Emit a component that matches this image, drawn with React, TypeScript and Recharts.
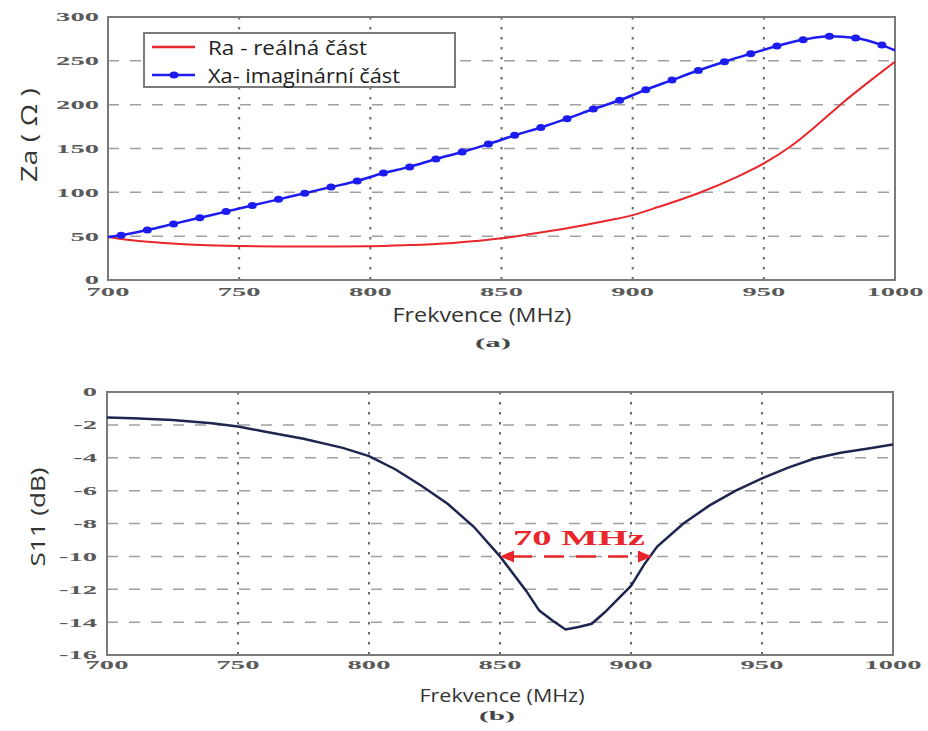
import React from 'react';
import {
  LineChart,
  Line,
  XAxis,
  YAxis,
  CartesianGrid,
  ReferenceArea,
  ReferenceLine,
  Legend,
} from 'recharts';

// Axis ticks
const freqTicks = [700, 750, 800, 850, 900, 950, 1000];
const zaTicks = [0, 50, 100, 150, 200, 250, 300];
const s11Ticks = [0, -2, -4, -6, -8, -10, -12, -14, -16];

// (a) Real part of the antenna impedance, Ra (ohm)
const raFreq = [700, 710, 720, 735, 750, 765, 780, 800, 815, 825, 840, 850, 860, 875, 890, 900, 910, 925, 940, 950, 960, 970, 980, 990, 1000];
const raOhm = [49, 45, 42.5, 40, 38.8, 38.3, 38.2, 38.5, 39.8, 41, 44.5, 47.5, 52, 59, 67.5, 74, 83.5, 99, 118, 133, 152, 176, 202, 226, 249];

// (a) Imaginary part of the antenna impedance, Xa (ohm); markers on the inner samples
const xaFreq = [700, 705, 715, 725, 735, 745, 755, 765, 775, 785, 795, 805, 815, 825, 835, 845, 855, 865, 875, 885, 895, 905, 915, 925, 935, 945, 955, 965, 975, 985, 995, 1000];
const xaOhm = [49, 51, 57, 64, 71, 78, 85, 92, 99, 106, 113, 122, 129, 138, 146, 155, 165, 174, 184, 195, 205, 217, 228, 239, 249, 258, 267, 274, 278, 276, 268, 262];

// (b) Reflection coefficient S11 (dB)
const s11Freq = [700, 710, 725, 740, 750, 760, 775, 790, 800, 810, 820, 830, 840, 850, 860, 865, 870, 875, 880, 885, 890, 895, 900, 905, 910, 920, 930, 940, 950, 960, 970, 980, 990, 1000];
const s11Db = [-1.55, -1.6, -1.7, -1.9, -2.1, -2.4, -2.85, -3.4, -3.9, -4.7, -5.7, -6.8, -8.2, -10.0, -12.1, -13.3, -13.9, -14.45, -14.3, -14.1, -13.4, -12.6, -11.8, -10.5, -9.4, -8.0, -6.9, -6.0, -5.25, -4.6, -4.05, -3.7, -3.45, -3.2];

// Bandwidth marker at the -10 dB level
const bandStart = 850;
const bandEnd = 908;
const bandLevel = -10;
const bandText = '70 MHz';

const raData = raFreq.map((f, i) => ({ f, ohm: raOhm[i] }));
const xaData = xaFreq.map((f, i) => ({ f, ohm: xaOhm[i] }));
const s11Data = s11Freq.map((f, i) => ({ f, db: s11Db[i] }));

const RED = '#e8262b';
const BLUE = '#1c1cf0';
const NAVY = '#1e2650';
const FRAME = '#7a7a7a';
const SANS = '"Open Sans", "Noto Sans", sans-serif';
const SERIF = '"Liberation Serif", "Times New Roman", serif';

const SerifTick = (props: any) => {
  const { x, y, payload, anchor, dx = 0, dy = 0 } = props;
  return (
    <g transform={`translate(${x + dx},${y + dy})`}>
      <text
        transform="scale(2.2,1)"
        textAnchor={anchor}
        dominantBaseline="central"
        fontFamily={SERIF}
        fontWeight="bold"
        fontSize={13}
        fill="#5a5a5a"
      >
        {payload.value}
      </text>
    </g>
  );
};

const XaDot = (props: any) => {
  const { cx, cy, index } = props;
  if (index === 0 || index === xaData.length - 1 || cx == null) {
    return <g key={`xa-dot-${index}`} />;
  }
  return <ellipse key={`xa-dot-${index}`} cx={cx} cy={cy} rx={4.5} ry={3.5} fill={BLUE} />;
};

const ImpedanceLegend = (props: any) => {
  const payload = props.payload || [];
  const rows = payload.length
    ? payload
    : [
        { value: 'Ra - reálná část', color: RED },
        { value: 'Xa- imaginární část', color: BLUE },
      ];
  const widths = [159, 192];
  return (
    <div
      style={{
        width: 313,
        height: 56,
        boxSizing: 'border-box',
        border: `2px solid ${FRAME}`,
        background: '#fff',
      }}
    >
      <svg width={309} height={52} style={{ display: 'block', overflow: 'visible' }}>
        {rows.map((r: any, i: number) => {
          const cy = 13 + i * 28;
          return (
            <g key={r.value}>
              <line x1={7} y1={cy} x2={50} y2={cy} stroke={r.color} strokeWidth={2.5} />
              {i === 1 && <ellipse cx={29} cy={cy} rx={4.5} ry={3.5} fill={r.color} />}
              <text
                x={63}
                y={cy}
                dominantBaseline="central"
                fontFamily={SANS}
                fontSize={20}
                fill="#222"
                textLength={widths[i]}
                lengthAdjust="spacingAndGlyphs"
              >
                {r.value}
              </text>
            </g>
          );
        })}
      </svg>
    </div>
  );
};

const BandArrow = (props: any) => {
  const { x1, y1, x2, y2 } = props;
  const len = 14;
  const h = 6;
  return (
    <g>
      <line
        x1={x1 + len - 2}
        y1={y1}
        x2={x2 - len + 2}
        y2={y2}
        stroke={RED}
        strokeWidth={2.5}
        strokeDasharray="20 12"
      />
      <polygon points={`${x1},${y1} ${x1 + len},${y1 - h} ${x1 + len},${y1 + h}`} fill={RED} />
      <polygon points={`${x2},${y2} ${x2 - len},${y2 - h} ${x2 - len},${y2 + h}`} fill={RED} />
    </g>
  );
};

const BandLabel = (props: any) => {
  const vb = props.viewBox || {};
  const cx = (vb.x || 0) + (vb.width || 0) / 2 + 3;
  const cy = (vb.y || 0) - 11;
  return (
    <text
      x={cx}
      y={cy}
      textAnchor="middle"
      fontFamily={SERIF}
      fontWeight="bold"
      fontSize={20}
      fill={RED}
      textLength={132}
      lengthAdjust="spacingAndGlyphs"
    >
      {bandText}
    </text>
  );
};

const Frame = ({ x1, x2, y1, y2 }: any) => (
  <ReferenceArea x1={x1} x2={x2} y1={y1} y2={y2} fill="none" stroke={FRAME} strokeWidth={2} ifOverflow="visible" />
);

export default function App() {
  return (
    <div style={{ position: 'absolute', left: 0, top: 0, width: 928, height: 731, background: '#fff' }}>
      {/* (a) impedance */}
      <div style={{ position: 'absolute', left: 0, top: 0 }}>
        <LineChart width={928} height={360} margin={{ top: 17, left: 48, right: 33, bottom: 50 }}>
          <CartesianGrid horizontal vertical={false} stroke="#a0a0a0" strokeWidth={1.5} strokeDasharray="11 11" />
          <CartesianGrid horizontal={false} vertical stroke="#6a6a6a" strokeWidth={2} strokeDasharray="2.5 7.5" />
          <XAxis
            dataKey="f"
            type="number"
            domain={[700, 1000]}
            ticks={freqTicks}
            allowDataOverflow
            axisLine={false}
            tickLine={false}
            tickSize={0}
            tickMargin={0}
            height={30}
            tick={(p: any) => <SerifTick {...p} anchor="middle" dy={12} />}
          />
          <YAxis
            type="number"
            domain={[0, 300]}
            ticks={zaTicks}
            allowDataOverflow
            axisLine={false}
            tickLine={false}
            tickSize={0}
            tickMargin={0}
            width={60}
            tick={(p: any) => <SerifTick {...p} anchor="end" dx={-9} />}
          />
          <Line
            data={raData}
            dataKey="ohm"
            name="Ra - reálná část"
            stroke={RED}
            strokeWidth={2}
            dot={false}
            activeDot={false}
            type="monotone"
            isAnimationActive={false}
          />
          <Line
            data={xaData}
            dataKey="ohm"
            name="Xa- imaginární část"
            stroke={BLUE}
            strokeWidth={2.5}
            dot={XaDot}
            activeDot={false}
            type="monotone"
            isAnimationActive={false}
          />
          {Frame({ x1: 700, x2: 1000, y1: 0, y2: 300 })}
          <Legend
            layout="horizontal"
            verticalAlign="middle"
            align="center"
            content={<ImpedanceLegend />}
            wrapperStyle={{ left: 143, top: 32, width: 313, height: 56 }}
          />
        </LineChart>
      </div>

      {/* (b) S11 */}
      <div style={{ position: 'absolute', left: 0, top: 360 }}>
        <LineChart width={928} height={371} data={s11Data} margin={{ top: 32, left: 47, right: 35, bottom: 46 }}>
          <CartesianGrid horizontal vertical={false} stroke="#a0a0a0" strokeWidth={1.5} strokeDasharray="11 11" />
          <CartesianGrid horizontal={false} vertical stroke="#6a6a6a" strokeWidth={2} strokeDasharray="2.5 7.5" />
          <XAxis
            dataKey="f"
            type="number"
            domain={[700, 1000]}
            ticks={freqTicks}
            allowDataOverflow
            axisLine={false}
            tickLine={false}
            tickSize={0}
            tickMargin={0}
            height={30}
            tick={(p: any) => <SerifTick {...p} anchor="middle" dy={10} />}
          />
          <YAxis
            type="number"
            domain={[-16, 0]}
            ticks={s11Ticks}
            allowDataOverflow
            axisLine={false}
            tickLine={false}
            tickSize={0}
            tickMargin={0}
            width={60}
            tick={(p: any) => <SerifTick {...p} anchor="end" dx={-10} />}
          />
          <Line
            dataKey="db"
            name="S11"
            stroke={NAVY}
            strokeWidth={2.5}
            dot={false}
            activeDot={false}
            type="linear"
            isAnimationActive={false}
          />
          <ReferenceLine
            segment={[
              { x: bandStart, y: bandLevel },
              { x: bandEnd, y: bandLevel },
            ]}
            shape={BandArrow}
            label={<BandLabel />}
          />
          {Frame({ x1: 700, x2: 1000, y1: -16, y2: 0 })}
        </LineChart>
      </div>

      {/* Axis titles and panel captions */}
      <svg
        width={928}
        height={731}
        style={{ position: 'absolute', left: 0, top: 0, pointerEvents: 'none' }}
      >
        <text
          transform="translate(29,135) rotate(-90)"
          textAnchor="middle"
          dominantBaseline="central"
          fontFamily={SANS}
          fontSize={21}
          fill="#333"
          textLength={94}
          lengthAdjust="spacingAndGlyphs"
        >
          Za ( Ω )
        </text>
        <text
          x={482}
          y={314}
          textAnchor="middle"
          dominantBaseline="central"
          fontFamily={SANS}
          fontSize={20}
          fill="#333"
          textLength={179}
          lengthAdjust="spacingAndGlyphs"
        >
          Frekvence (MHz)
        </text>
        <text
          x={493}
          y={342}
          textAnchor="middle"
          dominantBaseline="central"
          fontFamily={SERIF}
          fontWeight="bold"
          fontSize={13}
          fill="#444"
          textLength={36}
          lengthAdjust="spacingAndGlyphs"
        >
          (a)
        </text>
        <text
          transform="translate(37,517) rotate(-90)"
          textAnchor="middle"
          dominantBaseline="central"
          fontFamily={SANS}
          fontSize={20}
          fill="#333"
          textLength={99}
          lengthAdjust="spacingAndGlyphs"
        >
          S11 (dB)
        </text>
        <text
          x={502}
          y={695}
          textAnchor="middle"
          dominantBaseline="central"
          fontFamily={SANS}
          fontSize={19}
          fill="#333"
          textLength={165}
          lengthAdjust="spacingAndGlyphs"
        >
          Frekvence (MHz)
        </text>
        <text
          x={497}
          y={716}
          textAnchor="middle"
          dominantBaseline="central"
          fontFamily={SERIF}
          fontWeight="bold"
          fontSize={12}
          fill="#444"
          textLength={36}
          lengthAdjust="spacingAndGlyphs"
        >
          (b)
        </text>
      </svg>
    </div>
  );
}
